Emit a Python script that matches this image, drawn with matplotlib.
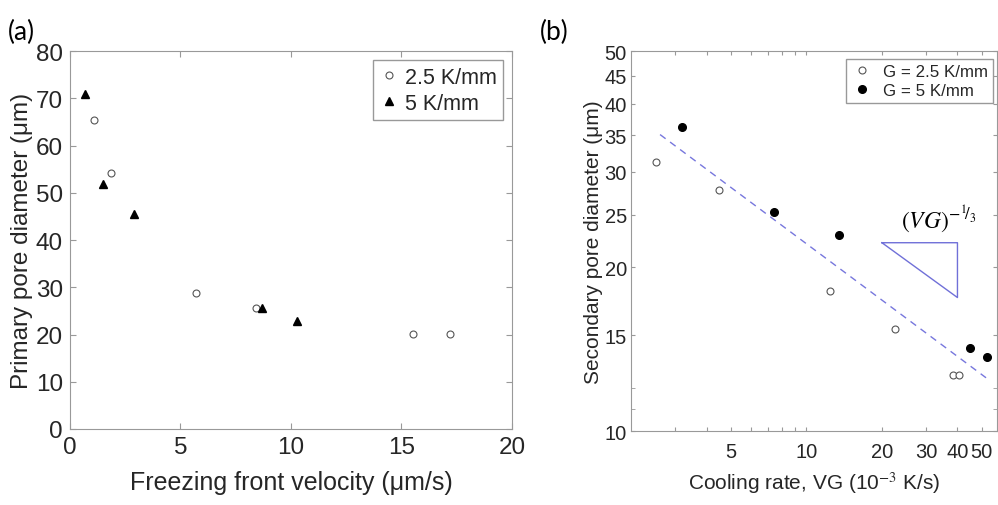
import matplotlib.pyplot as plt
from matplotlib.ticker import FixedLocator, NullFormatter, FixedFormatter

plt.rcParams['font.family'] = ['Liberation Sans', 'DejaVu Sans']
plt.rcParams['mathtext.fontset'] = 'stix'

# (a) primary pore diameter vs freezing front velocity
v_25 = [1.10, 1.84, 5.70, 8.42, 15.51, 17.21]
d_25 = [65.5, 54.2, 28.8, 25.7, 20.2, 20.2]
v_5 = [0.68, 1.49, 2.91, 8.67, 10.26]
d_5 = [70.8, 51.8, 45.6, 25.7, 22.9]

# (b) secondary pore diameter vs cooling rate
vg_25 = [2.52, 4.5, 12.4, 22.5, 38.4, 40.4]
s_25 = [31.3, 27.8, 18.1, 15.4, 12.7, 12.7]
vg_5 = [3.19, 7.44, 13.45, 44.9, 52.3]
s_5 = [36.2, 25.3, 22.9, 14.2, 13.7]
fit_x = [2.61, 52.0]
fit_y = [35.1, 12.53]
tri_x = [20, 40, 40, 20]
tri_y = [22.2, 22.2, 17.6, 22.2]

spine_col = '#999999'
txt_col = '#262626'

fig = plt.figure(figsize=(9.98, 5.06), dpi=100)

# ---- panel (a)
ax1 = fig.add_axes([0.0701, 0.1502, 0.4429, 0.7470])
ax1.plot(v_25, d_25, 'o', mfc='white', mec='#555555', ms=5, mew=0.8, label='2.5 K/mm')
ax1.plot(v_5, d_5, '^', color='black', ms=6, label='5 K/mm')
ax1.set_xlim(0, 20)
ax1.set_ylim(0, 80)
ax1.set_xticks([0, 5, 10, 15, 20])
ax1.set_yticks(range(0, 81, 10))
ax1.set_xlabel('Freezing front velocity (μm/s)', fontsize=18, color=txt_col, labelpad=9)
ax1.set_ylabel('Primary pore diameter (μm)', fontsize=17.5, color=txt_col, labelpad=2)
ax1.tick_params(direction='in', top=True, right=True, labelsize=17.5, length=4,
                color=spine_col, labelcolor=txt_col, pad=5)
for s in ax1.spines.values():
    s.set_color(spine_col)
leg1 = ax1.legend(loc='upper right', fontsize=15.5, frameon=True, fancybox=False,
                  edgecolor=spine_col, framealpha=1, handletextpad=0.3,
                  handlelength=0.9, borderpad=0.3, labelspacing=0.25,
                  borderaxespad=0, bbox_to_anchor=(0.98, 0.976))
for t in leg1.get_texts():
    t.set_color(txt_col)

# ---- panel (b)
ax2 = fig.add_axes([0.6323, 0.1462, 0.3667, 0.751])
ax2.set_xscale('log')
ax2.set_yscale('log')
ax2.plot(fit_x, fit_y, '--', color='#7777dd', lw=1, dashes=(5, 4))
ax2.plot(vg_25, s_25, 'o', mfc='white', mec='#555555', ms=5, mew=0.8, label='G = 2.5 K/mm')
ax2.plot(vg_5, s_5, 'o', color='black', ms=5.5, label='G = 5 K/mm')
ax2.plot(tri_x, tri_y, '-', color='#7070d8', lw=1)
ax2.text(33.8, 23.0, r'$(VG)^{-{}^{1}\!/_{3}}$', fontsize=17, ha='center', va='bottom',
         color='black')
ax2.set_xlim(2, 57.5)
ax2.set_ylim(10, 50)
xt = [3, 4, 5, 6, 7, 8, 9, 10, 20, 30, 40, 50]
ax2.xaxis.set_major_locator(FixedLocator(xt))
ax2.xaxis.set_major_formatter(FixedFormatter(['', '', '5', '', '', '', '', '10', '20', '30', '40', '50']))
ax2.xaxis.set_minor_locator(FixedLocator([]))
ax2.xaxis.set_minor_formatter(NullFormatter())
yt = [10, 15, 20, 25, 30, 35, 40, 45, 50]
ax2.yaxis.set_major_locator(FixedLocator(yt))
ax2.yaxis.set_major_formatter(FixedFormatter([str(v) for v in yt]))
ax2.yaxis.set_minor_locator(FixedLocator([11, 12]))
ax2.yaxis.set_minor_formatter(NullFormatter())
ax2.set_xlabel('Cooling rate, VG (10$^{-3}$ K/s)', fontsize=15, color=txt_col, labelpad=6)
ax2.set_ylabel('Secondary pore diameter (μm)', fontsize=15, color=txt_col, labelpad=1)
ax2.tick_params(which='both', direction='in', top=True, right=True, labelsize=14.5,
                length=3, color=spine_col, labelcolor=txt_col, pad=3)
ax2.tick_params(axis='x', pad=8)
for s in ax2.spines.values():
    s.set_color(spine_col)
leg2 = ax2.legend(loc='upper right', fontsize=12.2, frameon=True, fancybox=False,
                  edgecolor=spine_col, framealpha=1, handletextpad=0.6,
                  handlelength=1.3, borderpad=0.3, labelspacing=0.25,
                  borderaxespad=0, bbox_to_anchor=(0.99, 0.979))
for t in leg2.get_texts():
    t.set_color(txt_col)

fig.text(0.008, 0.96, '(a)', fontsize=19, family=['Lato', 'DejaVu Sans'], va='top')
fig.text(0.541, 0.96, '(b)', fontsize=19, family=['Lato', 'DejaVu Sans'], va='top')

fig.savefig('out.png', dpi=100)
